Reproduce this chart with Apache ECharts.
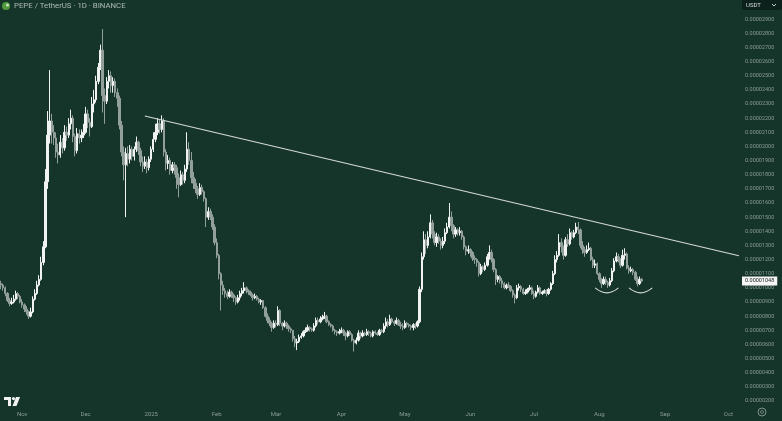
<!DOCTYPE html>
<html>
<head>
<meta charset="utf-8">
<title>PEPE / TetherUS 1D</title>
<script src="https://cdn.jsdelivr.net/npm/echarts@6/dist/echarts.min.js"></script>
<style>
  html, body { margin: 0; padding: 0; background: #15352b; }
  #chart { width: 782px; height: 421px; }
</style>
</head>
<body>
<div id="chart"></div>
<script>
// prices are in micro-USDT (1 = 0.000001)
var UNIT = 1e-6;

// daily candles from 2024-10-22
var firstOpen = 10.3;
var closes = [
  // Oct 22 - Nov 14
  10.2, 10.0, 9.6, 9.1, 8.9, 9.0, 9.2, 9.6, 9.4, 9.0, 8.8, 8.5, 8.3, 8.0, 8.3, 9.2, 9.6, 10.2, 10.6, 11.8, 12.9, 17.5, 20.8, 21.8,
  // Nov 15 - 30
  21.0, 20.6, 19.6, 19.4, 20.3, 19.9, 21.0, 20.8, 21.6, 22.0, 20.7, 19.7, 20.9, 20.6, 20.8, 21.0,
  // Dec
  22.3, 21.7, 21.4, 23.0, 23.3, 24.6, 25.6, 26.8, 23.6,
  23.2, 24.6, 25.0, 24.3, 24.6, 23.8, 23.4, 21.5, 19.6, 18.7,
  19.5,
  19.1, 19.8, 19.3, 19.8, 20.3, 19.7, 18.9, 18.6, 18.9, 18.5, 19.1,
  // Jan
  19.8, 20.5, 21.0, 21.6, 21.2, 21.8,
  19.6, 18.8, 19.0, 18.3, 18.7, 18.5, 17.8, 17.3, 18.0, 17.6, 18.4,
  19.8, 19.0, 17.8,
  17.4, 17.0, 16.6, 17.1, 16.8, 16.3, 15.0, 15.4, 15.0, 14.3, 13.2,
  // Feb
  12.3, 11.0, 10.2,
  9.8, 9.6, 9.4, 9.7, 9.5, 9.3, 9.0, 9.3, 9.6, 9.8, 10.0, 9.8,
  9.7, 9.5, 9.3, 9.4, 9.2, 9.0, 9.1, 8.6, 8.0, 7.7, 7.5, 7.2, 7.5,
  // Mar
  7.4, 8.4, 7.5, 7.3, 7.5, 7.3, 7.1, 7.0, 6.4, 6.1, 6.2, 6.5,
  6.6, 6.9, 7.0, 7.2, 7.1, 7.0, 7.3, 7.7, 7.6, 7.8, 7.9, 8.0, 7.6, 7.4, 7.3, 7.0, 6.9, 6.8, 6.9,
  // Apr
  7.0, 6.8, 6.6, 6.9, 6.7, 6.3, 6.1, 6.3, 6.8, 6.6,
  6.8, 6.7, 6.9, 6.8, 6.6, 6.9, 6.8, 6.7, 7.0, 6.9, 7.3, 7.6, 7.4, 7.8, 7.6, 7.5, 7.7, 7.4, 7.3, 7.2,
  // May
  7.5, 7.4, 7.3, 7.2, 7.4, 7.3, 7.6,
  9.9, 12.2, 13.4, 13.0, 13.6, 14.6, 13.8,
  13.2, 13.6, 13.3, 13.0, 13.3, 13.9, 14.3, 15.0, 14.4, 13.8, 14.1, 13.9, 14.0, 13.6, 12.9, 12.6, 12.7,
  // Jun
  12.5, 12.1, 12.0, 11.8, 11.0, 11.5, 11.3, 11.6, 12.2, 12.5,
  12.0, 11.3, 10.6, 10.8, 10.5, 10.3, 10.0, 10.2, 10.1, 9.8, 9.5, 9.3,
  10.0, 10.1, 9.9, 9.6, 9.7, 9.9, 10.0, 9.6,
  // Jul
  9.4, 9.7, 10.0, 9.6, 9.7, 9.8, 9.6, 9.9, 10.3,
  11.0, 12.0, 12.3, 13.2, 12.9, 12.3, 13.4, 13.1, 13.9, 13.6, 13.9, 14.3, 14.1, 13.0, 12.7, 12.5, 12.7, 12.8, 12.0, 11.6, 11.7, 11.0,
  // Aug
  10.6, 10.3, 10.6, 10.4, 10.2, 10.5, 11.2, 11.9, 12.2, 12.0, 11.6, 12.3, 12.4, 11.4, 11.2, 11.3, 11.1, 10.6, 10.3, 10.6, 10.48
];
var highs = [
  10.5, 10.3, 10.1, 9.7, 9.3, 9.3, 9.5, 9.8, 9.7, 9.5, 9.2, 8.9, 8.7, 8.4, 8.6, 9.4, 9.9, 10.5, 10.9, 12.2, 13.3, 18.4, 22.5, 25.4,
  22.3, 21.5, 21.0, 20.2, 20.8, 20.6, 21.5, 21.4, 22.0, 22.6, 22.2, 20.9, 21.3, 21.2, 21.2, 21.6,
  22.8, 22.6, 22.0, 23.5, 24.0, 25.0, 25.9, 27.2, 28.3,
  24.1, 24.9, 25.4, 25.3, 24.9, 24.8, 24.1, 23.6, 21.8, 20.0,
  19.9,
  20.0, 20.1, 20.0, 20.0, 20.7, 20.4, 19.9, 19.3, 19.3, 19.1, 19.3,
  20.0, 21.0, 21.6, 22.0, 21.9, 22.2,
  22.0, 19.8, 19.4, 19.2, 18.9, 18.9, 18.7, 18.1, 18.3, 18.2, 18.7,
  21.0, 20.3, 19.6,
  18.2, 17.7, 17.2, 17.4, 17.3, 16.9, 16.4, 15.7, 15.6, 15.2, 14.5,
  13.5, 12.4, 11.1,
  10.5, 10.0, 9.8, 9.9, 9.8, 9.6, 9.4, 9.5, 9.8, 10.0, 10.4, 10.1,
  9.9, 9.8, 9.6, 9.6, 9.5, 9.3, 9.2, 9.1, 8.7, 8.2, 7.9, 7.6, 7.7,
  7.7, 8.7, 8.5, 7.6, 7.7, 7.6, 7.4, 7.2, 7.0, 6.6, 6.4, 6.7,
  6.8, 7.0, 7.2, 7.4, 7.3, 7.2, 7.5, 7.9, 7.9, 8.0, 8.1, 8.3, 8.1, 7.7, 7.5, 7.4, 7.1, 7.0, 7.1,
  7.2, 7.1, 6.9, 7.0, 7.0, 6.8, 6.4, 6.5, 7.0, 6.9,
  7.0, 6.9, 7.1, 7.0, 6.9, 7.0, 7.0, 6.9, 7.1, 7.1, 7.5, 7.9, 7.8, 8.1, 7.9, 7.7, 7.9, 7.8, 7.6, 7.5,
  7.7, 7.6, 7.5, 7.4, 7.5, 7.5, 7.7,
  10.1, 12.5, 14.0, 13.8, 14.0, 15.2, 14.8,
  14.0, 13.9, 13.8, 13.5, 13.6, 14.2, 14.6, 16.0, 15.4, 14.5, 14.3, 14.2, 14.3, 14.1, 13.7, 13.0, 13.0,
  12.8, 12.6, 12.3, 12.1, 11.9, 11.7, 11.6, 11.8, 12.4, 13.0,
  12.7, 12.1, 11.4, 10.9, 10.9, 10.7, 10.4, 10.3, 10.4, 10.2, 9.9, 9.6,
  10.2, 10.3, 10.2, 10.0, 9.9, 10.0, 10.2, 10.1,
  9.8, 9.8, 10.2, 10.1, 9.8, 9.9, 9.9, 10.0, 10.4,
  11.2, 12.3, 12.6, 13.8, 13.5, 13.0, 13.6, 13.8, 14.2, 14.0, 14.1, 14.6, 14.65, 14.2, 13.3, 12.9, 13.0, 13.2, 12.9, 12.2, 12.0, 11.8,
  11.1, 10.7, 10.8, 10.8, 10.5, 10.7, 11.4, 12.1, 12.5, 12.4, 12.1, 12.7, 12.8, 12.5, 11.6, 11.5, 11.4, 11.2, 10.8, 10.8, 10.7
];
var lows = [
  9.9, 9.8, 9.4, 9.0, 8.7, 8.8, 8.9, 9.1, 9.2, 8.9, 8.6, 8.3, 8.1, 7.8, 7.9, 8.2, 9.1, 9.5, 10.1, 10.5, 11.6, 12.8, 17.0, 20.2,
  20.2, 20.1, 19.2, 18.8, 19.2, 19.5, 19.7, 20.4, 20.6, 21.2, 20.3, 19.3, 19.5, 20.2, 20.3, 20.6,
  20.9, 21.3, 20.7, 21.3, 22.4, 23.1, 24.4, 25.4, 22.4,
  21.6, 23.0, 24.1, 23.8, 23.8, 23.5, 22.8, 21.2, 19.3, 17.6,
  15.0,
  18.6, 18.8, 19.0, 19.0, 19.6, 19.4, 18.6, 18.2, 18.4, 18.1, 18.3,
  18.9, 19.6, 20.3, 20.8, 20.9, 21.0,
  19.3, 18.3, 18.4, 18.0, 18.1, 18.0, 17.0, 16.4, 17.2, 17.3, 17.4,
  18.2, 18.7, 17.4,
  17.0, 16.7, 16.3, 16.5, 16.6, 16.1, 14.3, 14.8, 14.8, 14.1, 13.0,
  12.1, 10.6, 8.4,
  9.5, 9.3, 9.2, 9.3, 9.3, 9.0, 8.8, 8.9, 9.1, 9.4, 9.6, 9.6,
  9.5, 9.4, 9.1, 9.2, 9.1, 8.9, 8.8, 8.5, 7.9, 7.5, 7.3, 6.9, 7.1,
  7.2, 7.3, 7.3, 7.0, 7.2, 7.1, 6.9, 6.8, 6.2, 5.8, 5.6, 6.1,
  6.4, 6.5, 6.8, 6.9, 6.9, 6.9, 6.9, 7.2, 7.4, 7.5, 7.7, 7.8, 7.5, 7.3, 7.2, 6.9, 6.7, 6.6, 6.7,
  6.8, 6.6, 6.3, 6.5, 6.6, 6.2, 5.5, 6.0, 6.2, 6.4,
  6.5, 6.6, 6.6, 6.6, 6.5, 6.5, 6.7, 6.6, 6.6, 6.8, 6.8, 7.1, 7.2, 7.3, 7.5, 7.3, 7.4, 7.3, 7.1, 7.0,
  7.1, 7.2, 7.2, 7.0, 7.0, 7.1, 7.2,
  7.5, 9.7, 12.0, 12.4, 12.8, 13.5, 13.5,
  13.0, 12.9, 13.1, 12.7, 12.8, 13.1, 13.8, 14.2, 14.0, 13.5, 13.6, 13.7, 13.7, 13.4, 12.7, 12.3, 12.4,
  12.2, 11.9, 11.7, 11.5, 10.8, 10.9, 11.1, 11.2, 11.5, 12.0,
  11.8, 11.1, 10.2, 10.4, 10.3, 10.0, 9.9, 9.9, 10.0, 9.7, 9.3, 8.9,
  9.2, 9.8, 9.7, 9.5, 9.5, 9.6, 9.8, 9.5,
  9.2, 9.3, 9.6, 9.5, 9.5, 9.6, 9.4, 9.5, 9.8,
  10.2, 10.9, 11.8, 12.2, 12.5, 12.0, 12.2, 12.9, 13.0, 13.4, 13.5, 13.8, 13.8, 12.8, 12.4, 12.2, 12.4, 12.6, 11.9, 11.4, 11.4, 10.9,
  10.4, 10.0, 10.2, 10.2, 10.0, 10.1, 10.4, 11.1, 11.8, 11.8, 11.4, 11.5, 12.0, 11.3, 11.0, 11.1, 10.9, 10.5, 10.1, 10.2, 10.4
];
var lastPrice = 10.48;

// x axis runs past the last candle, to early October
var START = Date.UTC(2024, 9, 22);
var DAY_COUNT = 350;
var monthKeys = ['2024-11', '2024-12', '2025-01', '2025-02', '2025-03', '2025-04', '2025-05', '2025-06', '2025-07', '2025-08', '2025-09', '2025-10'];
var monthNames = ['Nov', 'Dec', '2025', 'Feb', 'Mar', 'Apr', 'May', 'Jun', 'Jul', 'Aug', 'Sep', 'Oct'];

// drawn annotations: falling trendline and the two "smiles" under the lows
var trendStart = ['2024-12-29', 22.15];
var trendEnd = ['2025-10-06', 12.27];
// [from day, to day, price level, price at the bottom of the curve]
var smiles = [
  ['2025-07-30', '2025-08-10', 10.0, 9.65],
  ['2025-08-15', '2025-08-26', 10.0, 9.65]
];

var days = [];
for (var i = 0; i < DAY_COUNT; i++) {
  days.push(new Date(START + i * 864e5).toISOString().slice(0, 10));
}

// a daily candle opens at the previous day's close
var candles = closes.map(function (c, i) {
  var o = i === 0 ? firstOpen : closes[i - 1];
  return [o, c, lows[i], highs[i]];
});

function price(v) {
  return (v * UNIT).toFixed(8);
}

var labelColor = '#8a9a94';
var lineColor = '#d3d9d6';

var myChart = echarts.init(document.getElementById('chart'), null, { renderer: 'canvas' });

myChart.setOption({
  backgroundColor: '#15352b',
  animation: false,
  title: {
    text: 'PEPE / TetherUS · 1D · BINANCE',
    left: 14,
    top: 2,
    padding: 0,
    textStyle: {
      fontSize: 7.8,
      fontWeight: 'normal',
      color: '#aeb9b4',
      fontFamily: 'Roboto'
    }
  },
  grid: {
    left: 0,
    right: 42,
    top: 5,
    bottom: 20
  },
  xAxis: {
    type: 'category',
    data: days,
    boundaryGap: true,
    axisLine: { show: false },
    axisTick: { show: false },
    splitLine: { show: false },
    axisLabel: {
      margin: 10,
      color: labelColor,
      fontSize: 6,
      fontFamily: 'Roboto',
      interval: function (idx, value) {
        return value.slice(8) === '01';
      },
      formatter: function (value) {
        var k = monthKeys.indexOf(value.slice(0, 7));
        return k >= 0 ? monthNames[k] : '';
      }
    }
  },
  yAxis: {
    type: 'value',
    position: 'right',
    min: 2,
    max: 30,
    interval: 1,
    axisLine: { show: false },
    axisTick: { show: false },
    splitLine: { show: false },
    axisLabel: {
      margin: 5,
      color: labelColor,
      fontSize: 5.5,
      fontFamily: 'Roboto',
      formatter: function (v) {
        return v >= 30 ? '' : price(v);
      }
    }
  },
  series: [
    {
      name: 'PEPEUSDT',
      type: 'candlestick',
      data: candles,
      barWidth: '90%',
      itemStyle: {
        color: '#f1f3f2',
        color0: '#929f9a',
        borderColor: '#f1f3f2',
        borderColor0: '#929f9a',
        borderWidth: 1
      },
      markLine: {
        silent: true,
        animation: false,
        symbol: ['none', 'none'],
        label: { show: false },
        lineStyle: { color: lineColor, width: 1.1, type: 'solid' },
        data: [
          [{ coord: trendStart }, { coord: trendEnd }]
        ]
      }
    },
    {
      // hand-drawn curves under the two lows
      name: 'smiles',
      type: 'custom',
      silent: true,
      data: smiles,
      encode: { x: [0, 1], y: 2 },
      renderItem: function (params, api) {
        var a = api.coord([api.value(0), api.value(2)]);
        var b = api.coord([api.value(1), api.value(2)]);
        var bottom = api.coord([api.value(0), api.value(3)]);
        // quadratic control point sits twice as deep as the curve's bottom
        var cpy = a[1] + 2 * (bottom[1] - a[1]);
        return {
          type: 'bezierCurve',
          shape: { x1: a[0], y1: a[1], x2: b[0], y2: b[1], cpx1: (a[0] + b[0]) / 2, cpy1: cpy },
          style: { stroke: lineColor, lineWidth: 1.1, fill: null }
        };
      }
    },
    {
      // last price tag on the price scale
      name: 'last',
      type: 'line',
      data: [],
      markLine: {
        silent: true,
        animation: false,
        symbol: ['none', 'none'],
        lineStyle: { color: 'rgba(0,0,0,0)', width: 0 },
        data: [
          {
            yAxis: lastPrice,
            label: {
              show: true,
              position: 'end',
              distance: 2,
              formatter: price(lastPrice),
              backgroundColor: '#f4f5f4',
              color: '#1b2320',
              fontSize: 5.5,
              fontFamily: 'Roboto',
              padding: [2, 3, 1, 3]
            }
          }
        ]
      }
    }
  ],
  graphic: [
    // pair icon
    { type: 'circle', shape: { cx: 6, cy: 6, r: 4 }, style: { fill: '#4f9a3c' } },
    { type: 'circle', shape: { cx: 7.5, cy: 5, r: 1.6 }, style: { fill: '#c9e0c0' } },
    // currency box, top right
    { type: 'rect', shape: { x: 742, y: -2, width: 40, height: 12, r: 2 }, style: { fill: '#0c211b' } },
    { type: 'text', left: 746, top: 2, style: { text: 'USDT', fill: '#d7dcda', fontSize: 6, fontFamily: 'Roboto' } },
    { type: 'polyline', shape: { points: [[772, 4], [774, 6], [776, 4]] }, style: { stroke: '#c0c7c4', lineWidth: 1, fill: null } },
    // TradingView mark, bottom left
    { type: 'rect', shape: { x: 4, y: 397, width: 7, height: 3 }, style: { fill: '#f2f2f2' } },
    { type: 'rect', shape: { x: 8, y: 397, width: 3, height: 9 }, style: { fill: '#f2f2f2' } },
    { type: 'circle', shape: { cx: 13.5, cy: 398.6, r: 1.6 }, style: { fill: '#f2f2f2' } },
    { type: 'polygon', shape: { points: [[16, 397], [20, 397], [16.5, 406], [12.5, 406]] }, style: { fill: '#f2f2f2' } },
    // settings button, bottom right
    { type: 'circle', shape: { cx: 762, cy: 412, r: 4 }, style: { fill: 'none', stroke: '#7f8f89', lineWidth: 1 } },
    { type: 'circle', shape: { cx: 762, cy: 412, r: 1.5 }, style: { fill: 'none', stroke: '#7f8f89', lineWidth: 0.8 } }
  ]
});
</script>
</body>
</html>
